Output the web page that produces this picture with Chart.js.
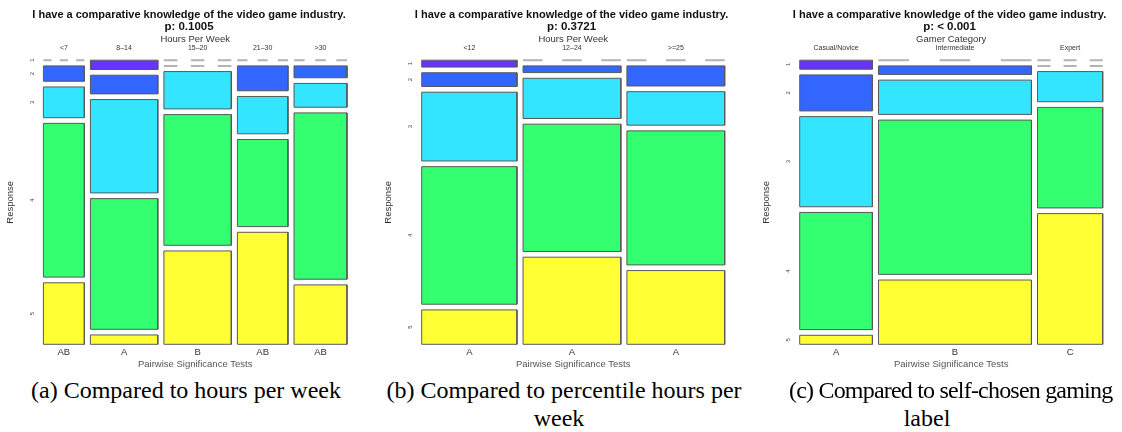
<!DOCTYPE html>
<html>
<head>
<meta charset="utf-8">
<script src="https://cdn.jsdelivr.net/npm/chart.js@4.4.1/dist/chart.umd.min.js"></script>
<style>
  html, body { margin: 0; padding: 0; background: #fff; overflow: hidden; }
  body { width: 1122px; height: 432px; position: relative; }
  canvas { position: absolute; top: 0; }
  .cap {
    position: absolute; width: 400px; text-align: center; white-space: nowrap;
    font-family: "Liberation Serif", "Times New Roman", serif;
    font-size: 24px; line-height: 28.8px; color: #000;
  }
  .cap.tight { text-align: left; width: auto; letter-spacing: -0.8px; }
</style>
</head>
<body>
<canvas id="hours" width="378" height="372" style="left:0px"></canvas>
<canvas id="percentile" width="387" height="372" style="left:378px"></canvas>
<canvas id="gamer" width="387" height="372" style="left:756px"></canvas>

<div class="cap" style="left:-14px; top:375.5px">(a) Compared to hours per week</div>
<div class="cap" style="left:364px; top:375.5px">(b) Compared to percentile hours per</div>
<div class="cap" style="left:359px; top:404.3px">week</div>
<div class="cap tight" style="left:789px; top:375.5px">(c) Compared to self-chosen gaming</div>
<div class="cap" style="left:727px; top:404.3px">label</div>

<script>
const question = 'I have a comparative knowledge of the video game industry.';
const responses = ['1', '2', '3', '4', '5'];
const responseColors = ['#6633ff', '#3366ff', '#33e5ff', '#33ff70', '#ffff33'];

// hours per week: counts of responses 1..5 for each group
const hoursGroups = ['<7', '8\u201314', '15\u201320', '21\u201330', '>30'];
const hoursLetters = ['AB', 'A', 'B', 'AB', 'AB'];
const hoursCounts = [
  [0, 1, 2, 10, 4],
  [1, 2, 10, 14, 1],
  [0, 0, 4, 14, 10],
  [0, 2, 3, 7, 9],
  [0, 1, 2, 14, 5]
];

// percentile hours per week
const pctGroups = ['<12', '12\u201324', '>=25'];
const pctLetters = ['A', 'A', 'A'];
const pctCounts = [
  [1, 2, 10, 20, 5],
  [0, 1, 6, 19, 13],
  [0, 3, 5, 20, 11]
];

// self-chosen gamer label
const gamerGroups = ['Casual/Novice', 'Intermediate', 'Expert'];
const gamerLetters = ['A', 'B', 'C'];
const gamerCounts = [
  [1, 4, 10, 13, 1],
  [0, 2, 8, 36, 15],
  [0, 0, 3, 10, 13]
];

Chart.defaults.font.family = '"Liberation Sans", Arial, Helvetica, sans-serif';
Chart.defaults.color = '#333';

const GAP = 0.02;

function sum(a) {
  return a.reduce((s, v) => s + v, 0);
}

// split the unit square into columns by group size, then rows by response share
function mosaicCells(counts) {
  const total = sum(counts.map(sum));
  const xSpace = 1 - GAP * (counts.length - 1);
  const cells = [];
  let x = 0;
  counts.forEach((col, i) => {
    const n = sum(col);
    const w = xSpace * n / total;
    const ySpace = 1 - GAP * (col.length - 1);
    let y = 0;
    col.forEach((count, j) => {
      const h = ySpace * count / n;
      cells.push({ col: i, row: j, count, x0: x, x1: x + w, y0: y, y1: y + h });
      y += h + GAP;
    });
    x += w + GAP;
  });
  return cells;
}

function cellDataset(c) {
  if (c.count === 0) {
    // empty cell: dashed line, three dashes across the column
    return {
      data: [{ x: c.x0, y: c.y0 }, { x: c.x1, y: c.y0 }],
      borderColor: '#b3b3b3',
      borderWidth: 2,
      borderDash: ctx => {
        const sx = ctx.chart.scales.x;
        const seg = Math.abs(sx.getPixelForValue(c.x1) - sx.getPixelForValue(c.x0)) / 5;
        return [seg, seg];
      },
      pointRadius: 0,
      fill: false,
      clip: false
    };
  }
  return {
    data: [
      { x: c.x0, y: c.y0 }, { x: c.x1, y: c.y0 },
      { x: c.x1, y: c.y1 }, { x: c.x0, y: c.y1 },
      { x: c.x0, y: c.y0 }
    ],
    backgroundColor: responseColors[c.row],
    borderColor: '#595959',
    borderWidth: 1,
    borderJoinStyle: 'miter',
    pointRadius: 0,
    tension: 0,
    fill: 'shape',
    clip: false
  };
}

function makePanel(id, spec) {
  const cells = mosaicCells(spec.counts);
  const colCenters = spec.counts.map((_, i) => {
    const c = cells.find(k => k.col === i);
    return (c.x0 + c.x1) / 2;
  });
  const rowCenters = cells.filter(k => k.col === 0).map(k => (k.y0 + k.y1) / 2);
  const setTicks = values => axis => {
    axis.ticks = values.map(v => ({ value: v }));
  };
  const noGrid = { display: false, drawTicks: false, tickLength: 0 };

  new Chart(document.getElementById(id), {
    type: 'line',
    data: { datasets: cells.map(cellDataset) },
    options: {
      responsive: false,
      animation: false,
      events: [],
      layout: { padding: 0 },
      plugins: {
        legend: { display: false },
        tooltip: { enabled: false },
        title: {
          display: true,
          text: question,
          color: '#111',
          font: { size: 11, weight: 'bold', lineHeight: 1 },
          padding: { top: 9.5, bottom: 0 }
        },
        subtitle: {
          display: true,
          text: 'p: ' + spec.p,
          color: '#111',
          font: { size: 11.5, weight: 'bold', lineHeight: 1 },
          padding: { top: 0.8, bottom: 0 }
        }
      },
      scales: {
        x: {
          type: 'linear', min: 0, max: 1,
          grid: noGrid, border: { display: false },
          afterBuildTicks: setTicks(colCenters),
          afterFit: s => { s.height = 27.7; },
          ticks: {
            autoSkip: false, maxRotation: 0, padding: 2, color: '#333',
            font: { size: 9.5 },
            callback: (v, i) => spec.letters[i]
          },
          title: {
            display: true, text: 'Pairwise Significance Tests', color: '#555',
            font: { size: 9.5 }, padding: { top: 0, bottom: 2.3 }
          }
        },
        x2: {
          type: 'linear', position: 'top', min: 0, max: 1,
          grid: noGrid, border: { display: false },
          afterBuildTicks: setTicks(colCenters),
          afterFit: s => { s.height = 59.7 - 32.3; },
          ticks: {
            autoSkip: false, maxRotation: 0, padding: 7.5, color: '#333',
            font: { size: 7 },
            callback: (v, i) => spec.groups[i]
          },
          title: {
            display: true, text: spec.groupTitle, color: '#333',
            font: { size: 9.5 }, padding: { top: 1, bottom: 0 }
          }
        },
        y: {
          type: 'linear', min: 0, max: 1, reverse: true,
          grid: noGrid, border: { display: false },
          afterBuildTicks: setTicks(rowCenters),
          afterFit: s => { s.width = spec.left; },
          ticks: {
            autoSkip: false, minRotation: 90, maxRotation: 90,
            crossAlign: 'center', padding: 9.8, color: '#444',
            font: { size: 6 },
            callback: (v, i) => responses[i]
          },
          title: {
            display: true, text: 'Response', color: '#333',
            font: { size: 9.5 }, padding: { top: 4.3, bottom: 0 }
          }
        },
        yRight: {
          type: 'linear', position: 'right', min: 0, max: 1,
          grid: noGrid, border: { display: false },
          ticks: { display: false },
          afterFit: s => { s.width = spec.right; }
        }
      }
    }
  });
}

makePanel('hours', {
  counts: hoursCounts, groups: hoursGroups, letters: hoursLetters,
  groupTitle: 'Hours Per Week', p: '0.1005', left: 43.4, right: 31
});
makePanel('percentile', {
  counts: pctCounts, groups: pctGroups, letters: pctLetters,
  groupTitle: 'Hours Per Week', p: '0.3721', left: 43.7, right: 40.3
});
makePanel('gamer', {
  counts: gamerCounts, groups: gamerGroups, letters: gamerLetters,
  groupTitle: 'Gamer Category', p: '< 0.001', left: 43.7, right: 40.3
});
</script>
</body>
</html>
